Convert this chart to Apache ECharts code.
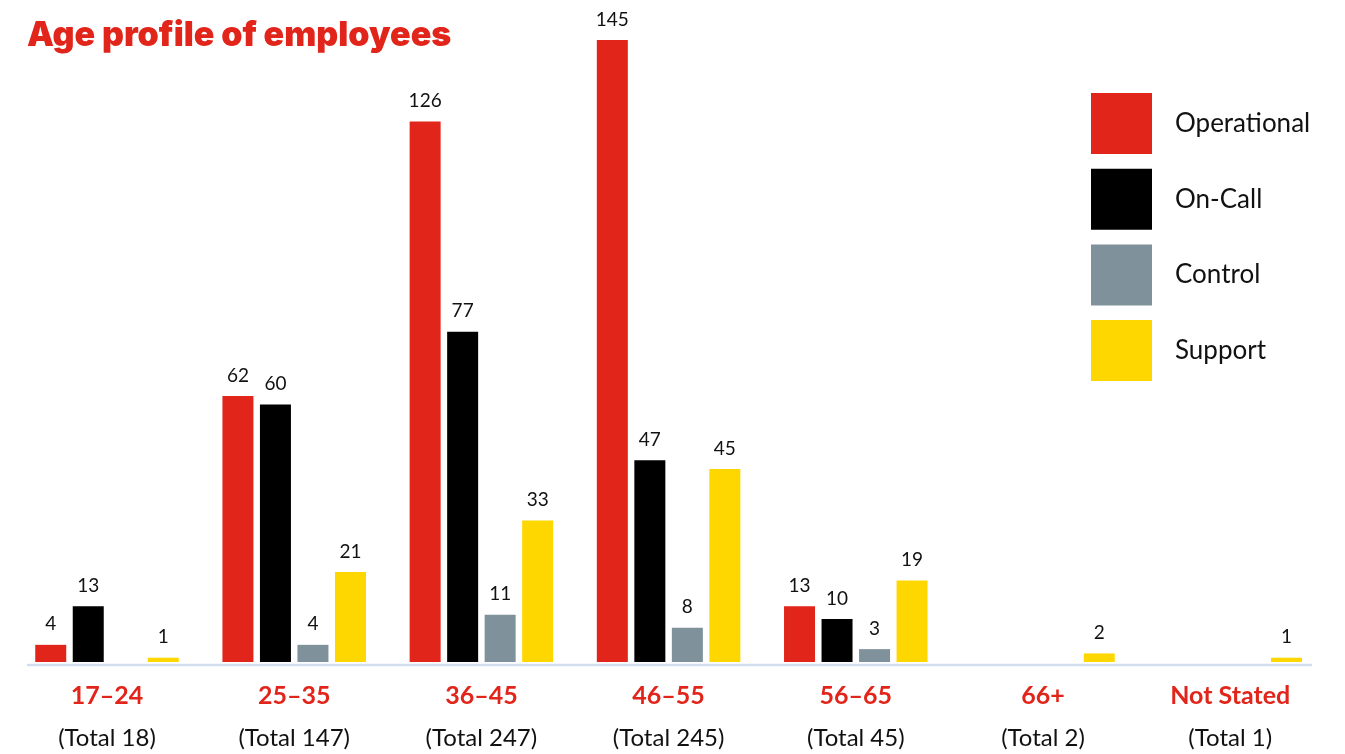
<!DOCTYPE html>
<html>
<head>
<meta charset="utf-8">
<title>Age profile of employees</title>
<script src="https://cdn.jsdelivr.net/npm/echarts@6/dist/echarts.min.js"></script>
<style>
  html, body { margin: 0; padding: 0; background: #ffffff; }
  #chart { width: 1345px; height: 754px; }
</style>
</head>
<body>
<div id="chart"></div>
<script>
// Age bands and their headcount totals (shown under each band)
const ageBands = ['17–24', '25–35', '36–45', '46–55', '56–65', '66+', 'Not Stated'];
const bandTotals = [18, 147, 247, 245, 45, 2, 1];

// Headcount by staff group; '-' marks a group with no staff in that band
const operational = [4, 62, 126, 145, 13, '-', '-'];
const onCall      = [13, 60, 77, 47, 10, '-', '-'];
const control     = ['-', 4, 11, 8, 3, '-', '-'];
const support     = [1, 21, 33, 45, 19, 2, 1];

const seriesNames = ['Operational', 'On-Call', 'Control', 'Support'];
const seriesColors = ['#e1251b', '#000000', '#7f919b', '#ffd700'];
const seriesData = [operational, onCall, control, support];

const FONT = 'Inter, "Noto Sans", sans-serif';
const TEXT_FONT = 'Lato, "Noto Sans", sans-serif';

const chart = echarts.init(document.getElementById('chart'), null, { renderer: 'canvas' });

const option = {
  animation: false,
  backgroundColor: '#ffffff',
  textStyle: { fontFamily: FONT },
  title: {
    text: 'Age profile of employees',
    left: 22,
    top: 14,
    textStyle: { color: '#e1251b', fontSize: 34, fontWeight: 900, fontFamily: FONT }
  },
  legend: {
    orient: 'vertical',
    left: 1086,
    top: 88,
    icon: 'rect',
    itemWidth: 61,
    itemHeight: 61,
    itemGap: 14.7,
    textStyle: { color: '#111111', fontSize: 26, fontFamily: TEXT_FONT, padding: [0, 0, 0, 18] },
    data: seriesNames
  },
  grid: { left: 13.4, right: 21.2, top: 18.5, bottom: 92, containLabel: false },
  xAxis: {
    type: 'category',
    data: ageBands,
    axisLine: { show: false },
    axisTick: { show: false },
    axisLabel: {
      interval: 0,
      margin: 12,
      formatter: function (value, idx) {
        return '{band|' + value + '}\n{total|(Total ' + bandTotals[idx] + ')}';
      },
      rich: {
        band: { color: '#e1251b', fontSize: 25, fontWeight: 'bold', fontFamily: TEXT_FONT, lineHeight: 43 },
        total: { color: '#111111', fontSize: 24, fontFamily: TEXT_FONT, lineHeight: 43 }
      }
    }
  },
  yAxis: {
    type: 'value',
    min: 0,
    max: 150,
    show: false,
    splitLine: { show: false }
  },
  graphic: [
    {
      type: 'line',
      shape: { x1: 27, y1: 665, x2: 1312, y2: 665 },
      style: { stroke: '#d2def0', lineWidth: 2.5 },
      z: 0
    }
  ],
  series: seriesNames.map(function (name, i) {
    return {
      name: name,
      type: 'bar',
      data: seriesData[i],
      barWidth: 31,
      barGap: '21%',
      itemStyle: { color: seriesColors[i] },
      label: {
        show: true,
        position: 'top',
        distance: 11,
        color: '#111111',
        fontSize: 19,
        fontFamily: TEXT_FONT
      },
      z: 2
    };
  })
};

chart.setOption(option);
</script>
</body>
</html>
